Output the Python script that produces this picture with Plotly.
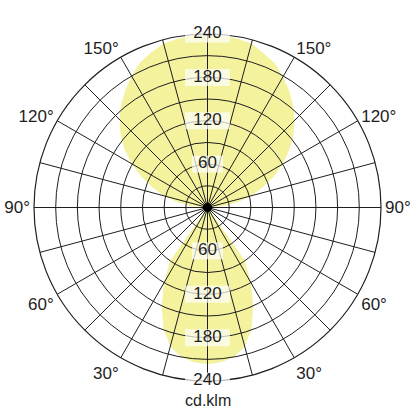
import plotly.graph_objects as go

# luminous intensity, cd/klm
# upper lobe (theta 90..270, 180 = straight up)
upper_theta = list(range(90, 275, 5))
upper_r = [0, 22, 43, 62, 81, 101, 120, 138, 155, 170, 184, 197, 209, 220, 227, 235, 237, 239, 239,
           239, 237, 235, 228, 221, 210, 198, 186, 172, 157, 140, 121, 101, 81, 62, 43, 22, 0]

# lower lobe (0 = straight down)
lower_theta = [0, -35, -30, -25, -20, -15, -10, -5, 0, 5, 10, 15, 20, 25, 30, 35, 0]
lower_r = [0, 90, 120, 150, 178, 199, 210, 215, 217, 215, 210, 199, 178, 150, 120, 90, 0]

ring_vals = [30, 60, 90, 120, 150, 180, 210, 240]
label_r = [60, 120, 180, 240]
angle_ticks = list(range(0, 360, 15))
angle_text = [f'{min(a, 360 - a)}°' if min(a, 360 - a) in (30, 60, 90, 120, 150) else '' for a in angle_ticks]

yellow = '#f4f29c'
ink = '#1e1e1e'

fig = go.Figure()
fig.add_trace(go.Scatterpolar(r=upper_r, theta=upper_theta, mode='lines', fill='toself',
                              fillcolor=yellow, line=dict(width=0, color=yellow),
                              hoverinfo='skip', subplot='polar'))
fig.add_trace(go.Scatterpolar(r=lower_r, theta=lower_theta, mode='lines', fill='toself',
                              fillcolor=yellow, line=dict(width=0, color=yellow),
                              hoverinfo='skip', subplot='polar'))

# labels on the vertical axis, up and down, on white boxes (thick horizontal line markers)
fig.add_trace(go.Scatterpolar(
    r=label_r + label_r,
    theta=[180] * 4 + [0] * 4,
    mode='markers+text',
    text=[str(v) for v in label_r] * 2,
    textposition='middle center',
    textfont=dict(size=17, color=ink, family='Liberation Sans'),
    marker=dict(symbol='line-ew', size=[22, 32, 32, 32] * 2, color='white',
                line=dict(color='white', width=17)),
    hoverinfo='skip', subplot='polar2'))

# black hub
fig.add_trace(go.Scatterpolar(r=[0], theta=[0], mode='markers',
                              marker=dict(size=9, color='black'),
                              hoverinfo='skip', subplot='polar2'))

hidden_axis = dict(showgrid=False, showticklabels=False, showline=False, ticks='')

fig.update_layout(
    width=416, height=416,
    margin=dict(l=33.5, r=34.5, t=33.5, b=34.5),
    paper_bgcolor='white',
    showlegend=False,
    font=dict(family='Liberation Sans', color=ink),
    polar=dict(
        domain=dict(x=[0, 1], y=[0, 1]),
        bgcolor='white',
        radialaxis=dict(range=[0, 240], **hidden_axis),
        angularaxis=dict(rotation=-90, direction='counterclockwise', **hidden_axis),
    ),
    polar2=dict(
        domain=dict(x=[0, 1], y=[0, 1]),
        bgcolor='rgba(0,0,0,0)',
        radialaxis=dict(range=[0, 240], tickvals=ring_vals, showticklabels=False,
                        ticks='', showline=False, gridcolor=ink, gridwidth=1.1),
        angularaxis=dict(rotation=-90, direction='counterclockwise',
                         tickvals=angle_ticks, ticktext=angle_text, ticks='',
                         showline=True, linecolor=ink, linewidth=1.2,
                         gridcolor=ink, gridwidth=1.1, layer='below traces',
                         tickfont=dict(size=17, color=ink)),
    ),
    annotations=[dict(text='cd.klm', x=0.5, y=-0.056, xref='paper', yref='paper',
                      showarrow=False, yanchor='middle',
                      font=dict(size=16, color=ink))],
)

# drop the default 8px body margin so the figure fills the window
fig.write_html('out.html', config={'displayModeBar': False},
               post_script="document.body.style.margin='0';")
